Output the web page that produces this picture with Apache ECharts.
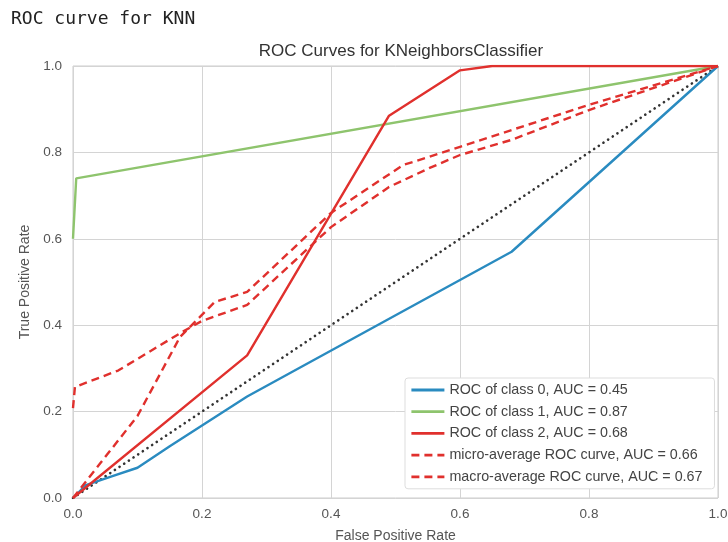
<!DOCTYPE html>
<html>
<head>
<meta charset="utf-8">
<script src="https://cdn.jsdelivr.net/npm/echarts@6/dist/echarts.min.js"></script>
<style>
  html, body { margin: 0; padding: 0; background: #fff; }
  #main { width: 728px; height: 542px; }
</style>
</head>
<body>
<div id="main"></div>
<script>
// ROC curve points, [fpr, tpr]
var class0 = [[0, 0], [0.02, 0.03], [0.06, 0.05], [0.1, 0.07], [0.15, 0.12], [0.27, 0.235], [0.68, 0.57], [1, 1]];
var class1 = [[0, 0.6], [0.005, 0.74], [1, 1]];
var class2 = [[0, 0], [0.27, 0.33], [0.49, 0.885], [0.6, 0.99], [0.65, 1], [1, 1]];
var microAvg = [[0, 0.208], [0.003, 0.257], [0.07, 0.295], [0.17, 0.385], [0.2, 0.41], [0.27, 0.447], [0.4, 0.627], [0.49, 0.72], [0.553, 0.764], [0.6, 0.794], [0.68, 0.829], [0.8, 0.898], [1, 1]];
var macroAvg = [[0, 0], [0.1, 0.19], [0.166, 0.373], [0.22, 0.454], [0.27, 0.477], [0.4, 0.66], [0.512, 0.771], [0.553, 0.79], [0.6, 0.813], [0.8, 0.91], [1, 1]];
var diagonal = [[0, 0], [1, 1]];
var names = ['ROC of class 0, AUC = 0.45', 'ROC of class 1, AUC = 0.87', 'ROC of class 2, AUC = 0.68',
  'micro-average ROC curve, AUC = 0.66', 'macro-average ROC curve, AUC = 0.67'];

var chart = echarts.init(document.getElementById('main'));

function line(name, data, color, dashed) {
  return {
    name: name,
    type: 'line',
    data: data,
    symbol: 'none',
    color: color,
    lineStyle: { color: color, width: 2.4, type: dashed ? [8, 5] : 'solid' },
    z: 3
  };
}

var option = {
  animation: false,
  textStyle: { fontFamily: 'Liberation Sans, Arial, sans-serif' },
  title: [{
    text: 'ROC Curves for KNeighborsClassifier',
    left: 396,
    top: 38,
    textAlign: 'center',
    textStyle: { fontSize: 17, fontWeight: 'normal', color: '#333' }
  }],
  graphic: [{
    type: 'text',
    left: 11,
    top: 10,
    style: { text: 'ROC curve for KNN', font: '18px "DejaVu Sans Mono", monospace', fill: '#222' }
  }],
  grid: {
    left: 73, right: 10, top: 66, bottom: 44,
    outerBoundsMode: 'none',
    show: true, borderColor: '#cccccc', borderWidth: 1
  },
  xAxis: {
    type: 'value', min: 0, max: 1, interval: 0.2,
    name: 'False Positive Rate', nameLocation: 'middle', nameGap: 31,
    nameTextStyle: { fontSize: 14, color: '#555' },
    axisLine: { show: false }, axisTick: { show: false },
    axisLabel: { formatter: function (v) { return v.toFixed(1); }, color: '#555', fontSize: 13.5, margin: 9 },
    splitLine: { lineStyle: { color: '#d4d4d4', width: 1 } }
  },
  yAxis: {
    type: 'value', min: 0, max: 1, interval: 0.2,
    name: 'True Positive Rate', nameLocation: 'middle', nameGap: 40,
    nameTextStyle: { fontSize: 14, color: '#555' },
    axisLine: { show: false }, axisTick: { show: false },
    axisLabel: { formatter: function (v) { return v.toFixed(1); }, color: '#555', fontSize: 13.5, margin: 11 },
    splitLine: { lineStyle: { color: '#d4d4d4', width: 1 } }
  },
  legend: {
    data: names,
    orient: 'vertical',
    left: 405,
    top: 378,
    itemWidth: 33,
    itemHeight: 14,
    itemGap: 7.7,
    padding: [5, 12, 5, 5],
    itemStyle: { opacity: 0 },
    lineStyle: { width: 2.8 },
    backgroundColor: '#ffffff',
    borderColor: '#dddddd',
    borderWidth: 1,
    borderRadius: 3,
    textStyle: { fontSize: 14.3, color: '#444' }
  },
  series: [
    line(names[0], class0, '#2a8bc0', false),
    line(names[1], class1, '#8ec46d', false),
    line(names[2], class2, '#e0302d', false),
    line(names[3], microAvg, '#e0302d', true),
    line(names[4], macroAvg, '#e0302d', true),
    {
      type: 'line', data: diagonal, symbol: 'none', silent: true, z: 2,
      lineStyle: { color: '#333', width: 2.6, type: [0.1, 5.5], cap: 'round' }
    }
  ]
};
chart.setOption(option);
</script>
</body>
</html>
